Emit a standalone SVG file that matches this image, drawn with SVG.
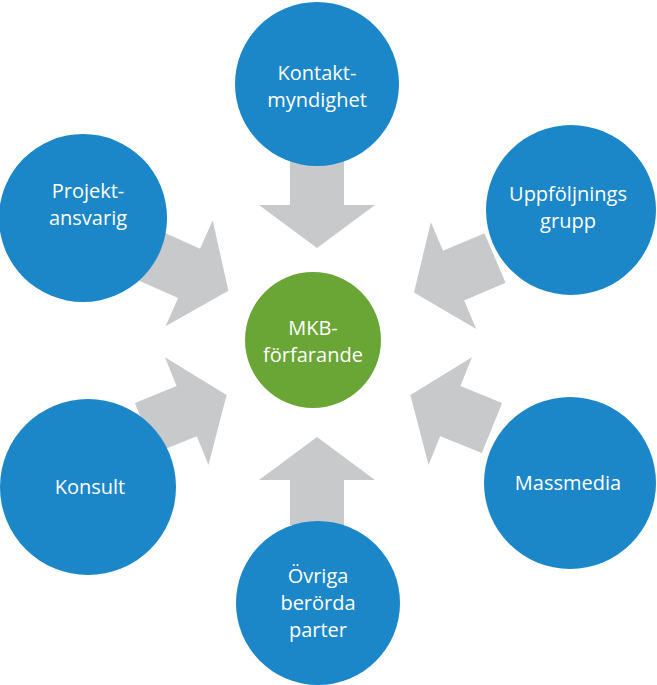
<svg xmlns="http://www.w3.org/2000/svg" width="657" height="685" viewBox="0 0 657 685">
<style>
.b{fill:#1b86c8}.g{fill:#6aa636}.a{fill:#c8c9ca}
text{fill:#fff;font-family:"Open Sans","Liberation Sans",sans-serif;font-size:20px;text-anchor:middle}
</style>
<defs><polygon id="arr" points="0,-27 45,-27 45,-58 88,0 45,58 45,27 0,27"/></defs>
<rect width="657" height="685" fill="#fff"/>
<g id="connectors">
<use href="#arr" class="a" transform="translate(317,160) rotate(90)"/>
<use href="#arr" class="a" transform="translate(148,255) rotate(24)"/>
<use href="#arr" class="a" transform="translate(495,258) rotate(157)"/>
<use href="#arr" class="a" transform="translate(145,428) rotate(-22)"/>
<use href="#arr" class="a" transform="translate(492,428) rotate(202)"/>
<use href="#arr" class="a" transform="translate(317,525) rotate(-90)"/>
</g>
<g id="center"><circle class="g" cx="313" cy="340" r="68"/><text x="313" y="335">MKB-</text><text x="313" y="362">förfarande</text></g>
<g id="kontakt"><circle class="b" cx="317" cy="84" r="82"/><text x="317" y="80">Kontakt-</text><text x="317" y="107">myndighet</text></g>
<g id="projekt"><circle class="b" cx="83" cy="218" r="84"/><text x="88" y="198">Projekt-</text><text x="88" y="225">ansvarig</text></g>
<g id="uppfoljning"><circle class="b" cx="571" cy="210" r="85"/><text x="568" y="201">Uppföljnings</text><text x="568" y="228">grupp</text></g>
<g id="konsult"><circle class="b" cx="88" cy="487" r="88"/><text x="90" y="494">Konsult</text></g>
<g id="massmedia"><circle class="b" cx="570" cy="483" r="86"/><text x="568" y="490">Massmedia</text></g>
<g id="ovriga"><circle class="b" cx="318" cy="603" r="82"/><text x="318" y="583">Övriga</text><text x="318" y="610">berörda</text><text x="318" y="637">parter</text></g>
</svg>
